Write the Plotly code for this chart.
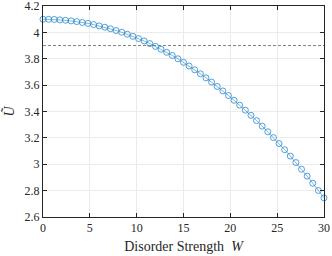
import plotly.graph_objects as go

W = [round(0.6 * i, 1) for i in range(51)]
U = [4.100, 4.099, 4.098, 4.095, 4.092, 4.087, 4.082, 4.075, 4.068, 4.059,
     4.049, 4.039, 4.027, 4.014, 4.001, 3.986, 3.970, 3.953, 3.935, 3.915,
     3.894, 3.872, 3.849, 3.825, 3.800, 3.773, 3.745, 3.716, 3.686, 3.655,
     3.623, 3.590, 3.556, 3.521, 3.485, 3.448, 3.410, 3.371, 3.331, 3.289,
     3.246, 3.202, 3.157, 3.110, 3.062, 3.013, 2.962, 2.910, 2.856, 2.801, 2.745]
threshold_x = [0, 30]
threshold_y = [3.9, 3.9]
xticks = [0, 5, 10, 15, 20, 25, 30]
yticks = [2.6, 2.8, 3.0, 3.2, 3.4, 3.6, 3.8, 4.0, 4.2]
yticklabels = ["2.6", "2.8", "3", "3.2", "3.4", "3.6", "3.8", "4", "4.2"]

font = "Liberation Serif, Times New Roman, serif"
fig = go.Figure()
fig.add_trace(go.Scatter(x=threshold_x, y=threshold_y, mode="lines",
                         line=dict(color="#808080", width=1, dash="3px,2px"),
                         showlegend=False, hoverinfo="skip"))
fig.add_trace(go.Scatter(x=W, y=U, mode="lines+markers",
                         line=dict(color="#0072BD", width=0.5),
                         marker=dict(symbol="circle-open", size=6,
                                     color="#2A88CC", line=dict(width=0.8)),
                         showlegend=False, cliponaxis=False))

axis_common = dict(showline=True, linecolor="#262626", linewidth=1, mirror="ticks",
                   ticks="inside", ticklen=4, tickcolor="#262626",
                   showgrid=True, gridcolor="#EBEBEB", gridwidth=1,
                   zeroline=False, automargin=False, ticklabeloverflow="allow",
                   tickfont=dict(family=font, size=12, color="#262626"))

fig.update_layout(
    width=332, height=256,
    margin=dict(l=43, r=8, t=6, b=39),
    paper_bgcolor="white", plot_bgcolor="white",
    font=dict(family=font, color="#262626"),
    xaxis=dict(range=[0, 30], tickvals=xticks, **axis_common,
               title=dict(text="Disorder Strength  <i>W</i>",
                          font=dict(family=font, size=14), standoff=6)),
    yaxis=dict(range=[2.6, 4.2000001], tickvals=yticks, ticktext=yticklabels, **axis_common,
               title=dict(text="<i>Ũ</i>", font=dict(family=font, size=14), standoff=6)),
)
fig.write_html("out.html", config={"displayModeBar": False},
               post_script="document.body.style.margin='0';document.body.style.overflow='hidden';")
